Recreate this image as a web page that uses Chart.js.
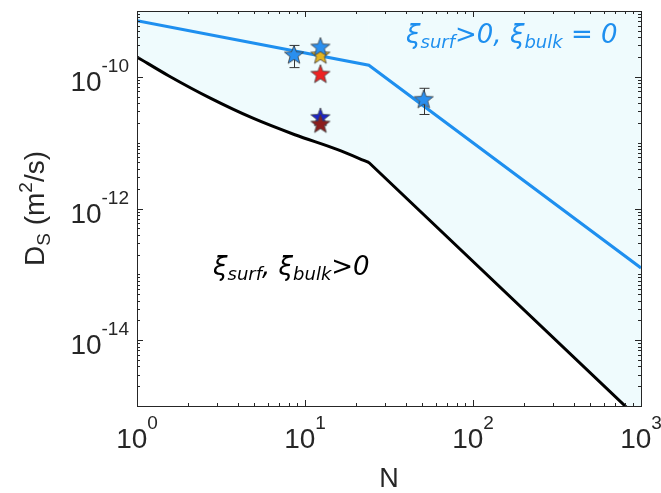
<!DOCTYPE html>
<html>
<head>
<meta charset="utf-8">
<script src="https://cdn.jsdelivr.net/npm/chart.js@4/dist/chart.umd.min.js"></script>
<style>
html, body { margin: 0; padding: 0; background: #fff; }
</style>
</head>
<body>
<canvas id="chart" width="661" height="493"></canvas>
<script>
// lower boundary (xi_surf, xi_bulk > 0): curved part, then straight tail
var bulkCurveN = [1, 1.55, 2.75, 4.9, 8.7, 15.5, 24];
var bulkCurveD = [2.0e-10, 1.03e-10, 4.7e-11, 2.35e-11, 1.32e-11, 7.9e-12, 5.0e-12];
var bulkTailN = [24, 1000];
var bulkTailD = [5.0e-12, 5.9e-16];
// upper boundary (xi_bulk = 0)
var surfN = [1, 24, 1000];
var surfD = [7.1e-10, 1.5e-10, 1.25e-13];

// measured points (stars)
var starN = [12.35, 12.35, 12.35, 12.35, 12.35, 8.6, 50.9];
var starD = [2.2e-10, 2.9e-10, 1.12e-10, 2.47e-11, 1.96e-11, 2.2e-10, 4.64e-11];
var starLo = [null, null, null, null, null, 1.38e-10, 2.68e-11];
var starHi = [null, null, null, null, null, 3.0e-10, 6.7e-11];
var starColors = ['#e3b321', '#2a8fef', '#ee2222', '#1c24c8', '#8c1d1d', '#2a8fef', '#2a8fef'];

// tick labels (powers of ten)
var xTickExp = [0, 1, 2, 3];
var yTickExp = [-10, -12, -14];

var blue = '#1e8fef';
var fillColor = '#effbfd';
var axisColor = '#262626';
var fontName = '"Liberation Sans", Arial, sans-serif';
var italicFont = '"DejaVu Sans", sans-serif';

function starImage(fill) {
    var size = 24, r = 10, ri = 4.2;
    var c = document.createElement('canvas');
    c.width = size; c.height = size;
    var g = c.getContext('2d');
    g.beginPath();
    for (var i = 0; i < 10; i++) {
        var rad = i % 2 ? ri : r;
        var a = -Math.PI / 2 + i * Math.PI / 5;
        var px = size / 2 + rad * Math.cos(a), py = size / 2 + 1 + rad * Math.sin(a);
        if (i) g.lineTo(px, py); else g.moveTo(px, py);
    }
    g.closePath();
    g.fillStyle = fill;
    g.fill();
    g.strokeStyle = '#3c3c3c';
    g.lineWidth = 0.8;
    g.stroke();
    return c;
}

function toPoints(xs, ys) {
    return xs.map(function (x, i) { return {x: x, y: ys[i]}; });
}

// draws a run of text pieces: [text, size, dy, italic]
function drawRich(ctx, x, y, parts, family, color, measureOnly) {
    var cx = x;
    parts.forEach(function (p) {
        ctx.font = (p[3] ? 'italic ' : '') + p[1] + 'px ' + family;
        if (!measureOnly) {
            ctx.fillStyle = color;
            ctx.fillText(p[0], cx, y + p[2]);
        }
        cx += ctx.measureText(p[0]).width;
    });
    return cx - x;
}

function powerLabel(e) {
    return [['10', 28, 0], [String(e), 19, -19]];
}

var axesPlugin = {
    id: 'axesPlugin',
    beforeDatasetDraw: function (chart, args) {
        if (args.index !== 3) return;
        var ctx = chart.ctx, xs = chart.scales.x, ys = chart.scales.y;
        ctx.save();
        ctx.strokeStyle = '#333';
        ctx.lineWidth = 1;
        for (var i = 0; i < starN.length; i++) {
            if (starLo[i] === null) continue;
            var px = Math.round(xs.getPixelForValue(starN[i])) + 0.5;
            var y1 = ys.getPixelForValue(starLo[i]), y2 = ys.getPixelForValue(starHi[i]);
            ctx.beginPath();
            ctx.moveTo(px, y1); ctx.lineTo(px, y2);
            ctx.moveTo(px - 5, y1); ctx.lineTo(px + 5, y1);
            ctx.moveTo(px - 5, y2); ctx.lineTo(px + 5, y2);
            ctx.stroke();
        }
        ctx.restore();
    },
    afterDraw: function (chart) {
        var ctx = chart.ctx, a = chart.chartArea;
        var xs = chart.scales.x, ys = chart.scales.y;
        ctx.save();
        // box
        ctx.strokeStyle = axisColor;
        ctx.lineWidth = 1;
        ctx.strokeRect(Math.round(a.left) + 0.5, Math.round(a.top) + 0.5,
            Math.round(a.right - a.left), Math.round(a.bottom - a.top));
        // tick marks, pointing inward on all four sides
        ctx.beginPath();
        var d, m, v, p, len;
        for (d = 0; d < 3; d++) {
            for (m = 1; m <= 9; m++) {
                v = m * Math.pow(10, d);
                p = Math.round(xs.getPixelForValue(v)) + 0.5;
                len = m === 1 ? 6 : 3;
                ctx.moveTo(p, a.bottom); ctx.lineTo(p, a.bottom - len);
                ctx.moveTo(p, a.top); ctx.lineTo(p, a.top + len);
            }
        }
        for (d = -15; d < -9; d++) {
            for (m = 1; m <= 9; m++) {
                v = m * Math.pow(10, d);
                p = Math.round(ys.getPixelForValue(v)) + 0.5;
                len = (m === 1 && d % 2 === 0) ? 6 : 3;
                ctx.moveTo(a.left, p); ctx.lineTo(a.left + len, p);
                ctx.moveTo(a.right, p); ctx.lineTo(a.right - len, p);
            }
        }
        ctx.stroke();

        // tick labels
        ctx.textBaseline = 'alphabetic';
        ctx.textAlign = 'left';
        xTickExp.forEach(function (e) {
            var px = xs.getPixelForValue(Math.pow(10, e));
            var w = drawRich(ctx, 0, 0, powerLabel(e), fontName, axisColor, true);
            drawRich(ctx, px - w / 2, 448, powerLabel(e), fontName, axisColor);
        });
        yTickExp.forEach(function (e) {
            var py = ys.getPixelForValue(Math.pow(10, e));
            var w = drawRich(ctx, 0, 0, powerLabel(e), fontName, axisColor, true);
            drawRich(ctx, 129 - w, py + 14, powerLabel(e), fontName, axisColor);
        });

        // axis titles
        ctx.font = '27px ' + fontName;
        ctx.fillStyle = axisColor;
        ctx.textAlign = 'center';
        ctx.fillText('N', (a.left + a.right) / 2, 487);
        ctx.textAlign = 'left';
        var yt = [['D', 28, 0], ['S', 19, 6], [' (m', 28, 0], ['2', 19, -12], ['/s)', 28, 0]];
        ctx.translate(44, (a.top + a.bottom) / 2);
        ctx.rotate(-Math.PI / 2);
        var tw = drawRich(ctx, 0, 0, yt, fontName, axisColor, true);
        drawRich(ctx, -tw / 2, 0, yt, fontName, axisColor);
        ctx.setTransform(1, 0, 0, 1, 0, 0);

        // region labels
        drawRich(ctx, 406, 43, [['ξ', 26, 0, 1], ['surf', 18, 5, 1], ['>0, ', 26, 0, 1],
            ['ξ', 26, 0, 1], ['bulk', 18, 5, 1], [' = 0', 26, 0, 1]], italicFont, blue);
        drawRich(ctx, 213, 275, [['ξ', 26, 0, 1], ['surf', 18, 5, 1], [', ', 26, 0, 1],
            ['ξ', 26, 0, 1], ['bulk', 18, 5, 1], ['>0', 26, 0, 1]], italicFont, '#000');
        ctx.restore();
    }
};

var ctx = document.getElementById('chart').getContext('2d');
window.dsChart = new Chart(ctx, {
    type: 'scatter',
    data: {
        datasets: [
            {
                data: toPoints(bulkCurveN, bulkCurveD),
                showLine: true,
                cubicInterpolationMode: 'monotone',
                borderColor: '#000',
                borderWidth: 3,
                borderCapStyle: 'round',
                pointRadius: 0,
                fill: 'end',
                backgroundColor: fillColor,
                order: 4
            },
            {
                data: toPoints(bulkTailN, bulkTailD),
                showLine: true,
                borderColor: '#000',
                borderWidth: 3,
                borderCapStyle: 'round',
                pointRadius: 0,
                fill: 'end',
                backgroundColor: fillColor,
                order: 3
            },
            {
                data: toPoints(surfN, surfD),
                showLine: true,
                borderColor: blue,
                borderWidth: 3,
                pointRadius: 0,
                fill: false,
                order: 2
            },
            {
                data: toPoints(starN, starD),
                showLine: false,
                pointStyle: starColors.map(starImage),
                pointRadius: 10,
                order: 1
            }
        ]
    },
    options: {
        responsive: false,
        animation: false,
        layout: {padding: {top: 5, right: 20, left: 0, bottom: 0}},
        plugins: {legend: {display: false}, tooltip: {enabled: false}},
        scales: {
            x: {
                type: 'logarithmic', min: 1, max: 1000,
                ticks: {display: false}, grid: {display: false}, border: {display: false},
                afterFit: function (s) { s.height = 87; }
            },
            y: {
                type: 'logarithmic', min: 1e-15, max: 1e-9,
                ticks: {display: false}, grid: {display: false}, border: {display: false},
                afterFit: function (s) { s.width = 137; }
            }
        }
    },
    plugins: [axesPlugin]
});
</script>
</body>
</html>
